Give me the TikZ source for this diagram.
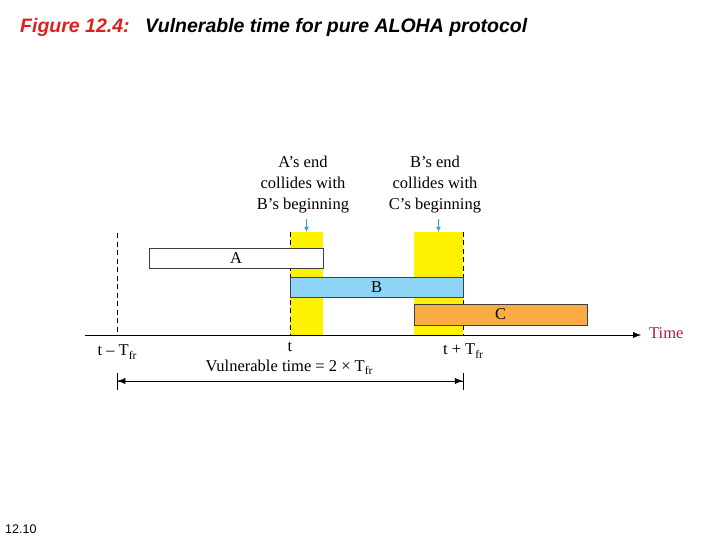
\documentclass[tikz,border=0pt]{standalone}
\usepackage{fontspec}
\setmainfont{Liberation Serif}
\setsansfont{Liberation Sans}
\usetikzlibrary{arrows.meta}
\definecolor{figred}{RGB}{222,32,28}
\definecolor{timered}{RGB}{180,30,50}
\definecolor{bandyellow}{RGB}{255,242,0}
\definecolor{frameblue}{RGB}{142,212,244}
\definecolor{frameorange}{RGB}{250,172,66}
\definecolor{hitcyan}{RGB}{38,166,222}
\newcommand{\Tfr}{T\raisebox{-0.45ex}{\fontsize{11.5}{11.5}\selectfont fr}}

\begin{document}
\begin{tikzpicture}[
      x=1pt, y=-1pt,
      txt/.style={font=\fontsize{16.5}{21}\selectfont, inner sep=1pt},
      note/.style={txt, align=center},
      frame/.style={draw=black!75, minimum width=173pt, minimum height=20pt,
                    inner sep=0pt, font=\fontsize{16.5}{16.5}\selectfont},
      band/.style={fill=bandyellow, inner sep=0pt, minimum height=103pt},
      edge/.style={dash pattern=on 5pt off 3.5pt, thin},
      hit/.style={-{Latex[length=5pt, width=5pt]}, hitcyan, thick},
      axis/.style={-{Latex[length=8pt, width=6pt]}, thin},
      span/.style={{Bar[width=17pt]Latex[length=8pt, width=6pt]}-{Latex[length=8pt, width=6pt]Bar[width=17pt]}, thin}
    ]
    \useasboundingbox (0,0) rectangle (720,540);
    \node[anchor=base west, inner sep=0pt, text=figred,
          font=\sffamily\bfseries\itshape\fontsize{19.5}{19.5}\selectfont] (figno) at (20,33) {Figure 12.4:};
    \node[anchor=base west, inner sep=0pt,
          font=\sffamily\bfseries\itshape\fontsize{19.5}{19.5}\selectfont] (caption) at (145,33) {Vulnerable time for pure ALOHA protocol};
    \node[anchor=base west, inner sep=0pt,
          font=\sffamily\fontsize{12.5}{12.5}\selectfont] (page) at (5,533) {12.10};

    \node[band, minimum width=33pt] (bandA) at (306.5,283.5) {};
    \node[band, minimum width=49pt] (bandB) at (438.5,283.5) {};

    \coordinate (lo) at (117,233);
    \coordinate (tstart) at (85,335);
    \coordinate (tend) at (641,335);
    \draw[edge] (lo) -- (lo |- tstart);
    \draw[edge] (bandA.north west) -- (bandA.south west);
    \draw[edge] (bandB.north east) -- (bandB.south east);

    \node[frame, fill=white, minimum width=174pt] (boxA) at (236,258) {A};
    \node[frame, fill=frameblue] (boxB) at (376.5,287) {B};
    \node[frame, fill=frameorange, minimum height=21pt] (boxC) at (500.5,314.5) {C};

    \draw[axis] (tstart) -- (tend);
    \node[txt, anchor=west, text=timered] (time) at (648,333) {Time};

    \node[note] (noteA) at (303,184.5) {A’s end\\collides with\\B’s beginning};
    \node[note] (noteB) at (435,184.5) {B’s end\\collides with\\C’s beginning};
    \draw[hit, shorten <=5pt] (noteA.south -| bandA.north) -- (bandA.north);
    \draw[hit, shorten <=5pt] (noteB.south -| bandB.north) -- (bandB.north);

    \node[txt] (tlow) at (117,352) {t – \Tfr};
    \node[txt] (tmid) at (290,347) {t};
    \node[txt] (thigh) at (463,351) {t + \Tfr};
    \node[txt] (vuln) at (289,367) {Vulnerable time = 2 × \Tfr};
    \coordinate (vlo) at (117,381);
    \draw[span] (vlo) -- (vlo -| bandB.east);
  \end{tikzpicture}
\end{document}
